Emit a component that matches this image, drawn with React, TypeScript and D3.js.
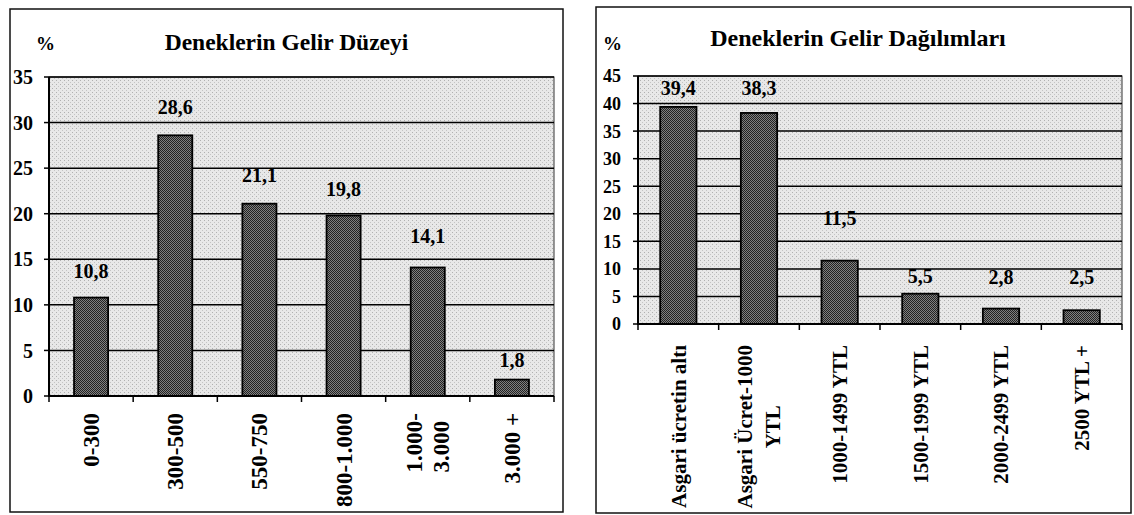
import React, { useEffect, useRef } from "react";
import * as d3 from "d3";

// ---- Data ----
const leftCategories = ["0-300", "300-500", "550-750", "800-1.000", "1.000-\n3.000", "3.000 +"];
const leftValues = [10.8, 28.6, 21.1, 19.8, 14.1, 1.8];
const leftYTicks = [0, 5, 10, 15, 20, 25, 30, 35];
const leftTitle = "Deneklerin Gelir Düzeyi";

const rightCategories = [
  "Asgari ücretin altı",
  "Asgari Ücret-1000\nYTL",
  "1000-1499 YTL",
  "1500-1999 YTL",
  "2000-2499 YTL",
  "2500 YTL +",
];
const rightValues = [39.4, 38.3, 11.5, 5.5, 2.8, 2.5];
const rightYTicks = [0, 5, 10, 15, 20, 25, 30, 35, 40, 45];
const rightTitle = "Deneklerin Gelir Dağılımları";

// ---- Layout / style ----
const FONT = "'Liberation Serif', 'Times New Roman', serif";
const trLocale = d3.formatLocale({ decimal: ",", thousands: ".", grouping: [3], currency: ["", ""] });
const fmt = trLocale.format(".1f");

type Cfg = {
  categories: string[];
  values: number[];
  yTicks: number[];
  title: string;
  box: { x: number; y: number; w: number; h: number };
  plot: { x0: number; x1: number; y0: number; y1: number };
  titlePos: [number, number];
  titleSize: number;
  pctPos: [number, number];
  tickFont: number;
  tickRight: number;
  xGap: number;
  xFont: number;
  lineH: number;
  align: "start" | "middle";
  barRatio: number;
  valueFont: number;
  valueGaps: number[];
};

const leftCfg: Cfg = {
  categories: leftCategories,
  values: leftValues,
  yTicks: leftYTicks,
  title: leftTitle,
  box: { x: 10, y: 9, w: 553, h: 503 },
  plot: { x0: 49, x1: 554, y0: 77, y1: 396 },
  titlePos: [286.5, 50],
  titleSize: 23.5,
  pctPos: [36, 50],
  tickFont: 20,
  tickRight: 33,
  xGap: 17,
  xFont: 23,
  lineH: 27,
  align: "start",
  barRatio: 0.405,
  valueFont: 20,
  valueGaps: [19.5, 21, 21.5, 19.5, 24.5, 12.5],
};

const rightCfg: Cfg = {
  categories: rightCategories,
  values: rightValues,
  yTicks: rightYTicks,
  title: rightTitle,
  box: { x: 596, y: 7, w: 535, h: 506 },
  plot: { x0: 638, x1: 1122, y0: 76, y1: 324 },
  titlePos: [858, 46],
  titleSize: 24,
  pctPos: [603, 50],
  tickFont: 18,
  tickRight: 621,
  xGap: 21,
  xFont: 21,
  lineH: 28,
  align: "middle",
  barRatio: 0.45,
  valueFont: 20,
  valueGaps: [12, 18, 35.5, 10.5, 24.5, 26],
};

function drawChart(svg: d3.Selection<SVGSVGElement, unknown, null, undefined>, c: Cfg) {
  const g = svg.append("g");
  const { plot } = c;
  const yMax = c.yTicks[c.yTicks.length - 1];

  const x = d3.scaleBand<string>().domain(c.categories).range([plot.x0, plot.x1]).paddingInner(0).paddingOuter(0);
  const y = d3.scaleLinear().domain([0, yMax]).range([plot.y1, plot.y0]);

  // outer box
  g.append("rect")
    .attr("x", c.box.x).attr("y", c.box.y).attr("width", c.box.w).attr("height", c.box.h)
    .attr("fill", "white").attr("stroke", "#111").attr("stroke-width", 1.5);

  // title and %
  g.append("text")
    .attr("x", c.titlePos[0]).attr("y", c.titlePos[1])
    .attr("text-anchor", "middle").attr("font-family", FONT).attr("font-weight", "bold")
    .attr("font-size", c.titleSize).attr("fill", "#000").text(c.title);
  g.append("text")
    .attr("x", c.pctPos[0]).attr("y", c.pctPos[1])
    .attr("font-family", FONT).attr("font-weight", "bold").attr("font-size", 19).attr("fill", "#000").text("%");

  // plot background
  g.append("rect")
    .attr("x", plot.x0).attr("y", plot.y0).attr("width", plot.x1 - plot.x0).attr("height", plot.y1 - plot.y0)
    .attr("fill", "url(#bgPat)").attr("stroke", "#333").attr("stroke-width", 1);

  // gridlines
  g.selectAll(null).data(c.yTicks.filter((t) => t > 0)).enter().append("line")
    .attr("x1", plot.x0).attr("x2", plot.x1)
    .attr("y1", (d) => y(d)).attr("y2", (d) => y(d))
    .attr("stroke", "#000").attr("stroke-width", 1.5);

  // bars
  const bw = x.bandwidth() * c.barRatio;
  g.selectAll(null).data(c.values).enter().append("rect")
    .attr("x", (_d, i) => (x(c.categories[i]) as number) + x.bandwidth() / 2 - bw / 2)
    .attr("y", (d) => y(d))
    .attr("width", bw)
    .attr("height", (d) => y(0) - y(d))
    .attr("fill", "url(#barPat)").attr("stroke", "#000").attr("stroke-width", 1.8);

  // value labels
  g.selectAll(null).data(c.values).enter().append("text")
    .attr("x", (_d, i) => (x(c.categories[i]) as number) + x.bandwidth() / 2)
    .attr("y", (d, i) => y(d) - c.valueGaps[i])
    .attr("text-anchor", "middle").attr("font-family", FONT).attr("font-weight", "bold")
    .attr("font-size", c.valueFont).attr("fill", "#000")
    .text((d) => fmt(d));

  // axes
  g.append("line").attr("x1", plot.x0).attr("x2", plot.x0).attr("y1", plot.y0).attr("y2", plot.y1)
    .attr("stroke", "#000").attr("stroke-width", 2);
  g.append("line").attr("x1", plot.x0 - 1).attr("x2", plot.x1).attr("y1", plot.y1).attr("y2", plot.y1)
    .attr("stroke", "#000").attr("stroke-width", 2);

  // y ticks + labels
  g.selectAll(null).data(c.yTicks).enter().append("line")
    .attr("x1", plot.x0 - 5).attr("x2", plot.x0)
    .attr("y1", (d) => y(d)).attr("y2", (d) => y(d))
    .attr("stroke", "#000").attr("stroke-width", 1.5);
  g.selectAll(null).data(c.yTicks).enter().append("text")
    .attr("x", c.tickRight).attr("y", (d) => y(d)).attr("dy", "0.36em")
    .attr("text-anchor", "end").attr("font-family", FONT).attr("font-weight", "bold")
    .attr("font-size", c.tickFont).attr("fill", "#000").text((d) => String(d));

  // x ticks at band boundaries
  const bounds = c.categories.map((k) => x(k) as number).concat([plot.x1]);
  g.selectAll(null).data(bounds).enter().append("line")
    .attr("x1", (d) => d).attr("x2", (d) => d)
    .attr("y1", plot.y1).attr("y2", plot.y1 + 6)
    .attr("stroke", "#000").attr("stroke-width", 1.5);

  // x labels (rotated)
  const top = plot.y1 + c.xGap;
  c.categories.forEach((cat) => {
    const cx = (x(cat) as number) + x.bandwidth() / 2;
    const lines = cat.split("\n");
    const lg = g.append("g").attr("transform", `translate(${cx},${top}) rotate(-90)`);
    const texts = lines.map((ln, i) =>
      lg.append("text")
        .attr("y", (i - (lines.length - 1) / 2) * c.lineH)
        .attr("dy", "0.35em")
        .attr("font-family", FONT).attr("font-weight", "bold")
        .attr("font-size", c.xFont).attr("fill", "#000")
        .text(ln)
    );
    if (lines.length === 1) {
      texts[0].attr("x", 0).attr("text-anchor", "end");
    } else {
      const L = d3.max(texts, (t) => (t.node() as SVGTextElement).getComputedTextLength()) || 0;
      texts.forEach((t) => {
        if (c.align === "start") t.attr("x", -L).attr("text-anchor", "start");
        else t.attr("x", -L / 2).attr("text-anchor", "middle");
      });
    }
  });
}

export default function App() {
  const ref = useRef<SVGSVGElement | null>(null);
  useEffect(() => {
    if (!ref.current) return;
    const svg = d3.select(ref.current);
    svg.selectAll("*").remove();
    const defs = svg.append("defs");
    const bg = defs.append("pattern").attr("id", "bgPat").attr("width", 4).attr("height", 4)
      .attr("patternUnits", "userSpaceOnUse");
    bg.append("rect").attr("width", 4).attr("height", 4).attr("fill", "#e8e8e8");
    bg.append("rect").attr("x", 0).attr("y", 0).attr("width", 1).attr("height", 1).attr("fill", "#b0b0b0");
    bg.append("rect").attr("x", 2).attr("y", 2).attr("width", 1).attr("height", 1).attr("fill", "#c4c4c4");
    const bp = defs.append("pattern").attr("id", "barPat").attr("width", 2).attr("height", 2)
      .attr("patternUnits", "userSpaceOnUse");
    bp.append("rect").attr("width", 2).attr("height", 2).attr("fill", "#808080");
    bp.append("rect").attr("x", 0).attr("y", 0).attr("width", 1).attr("height", 1).attr("fill", "#222");
    bp.append("rect").attr("x", 1).attr("y", 1).attr("width", 1).attr("height", 1).attr("fill", "#222");
    drawChart(svg, leftCfg);
    drawChart(svg, rightCfg);
  }, []);
  return (
    <svg
      ref={ref}
      width={1134}
      height={515}
      style={{ position: "absolute", left: 0, top: 0, background: "white" }}
    />
  );
}
